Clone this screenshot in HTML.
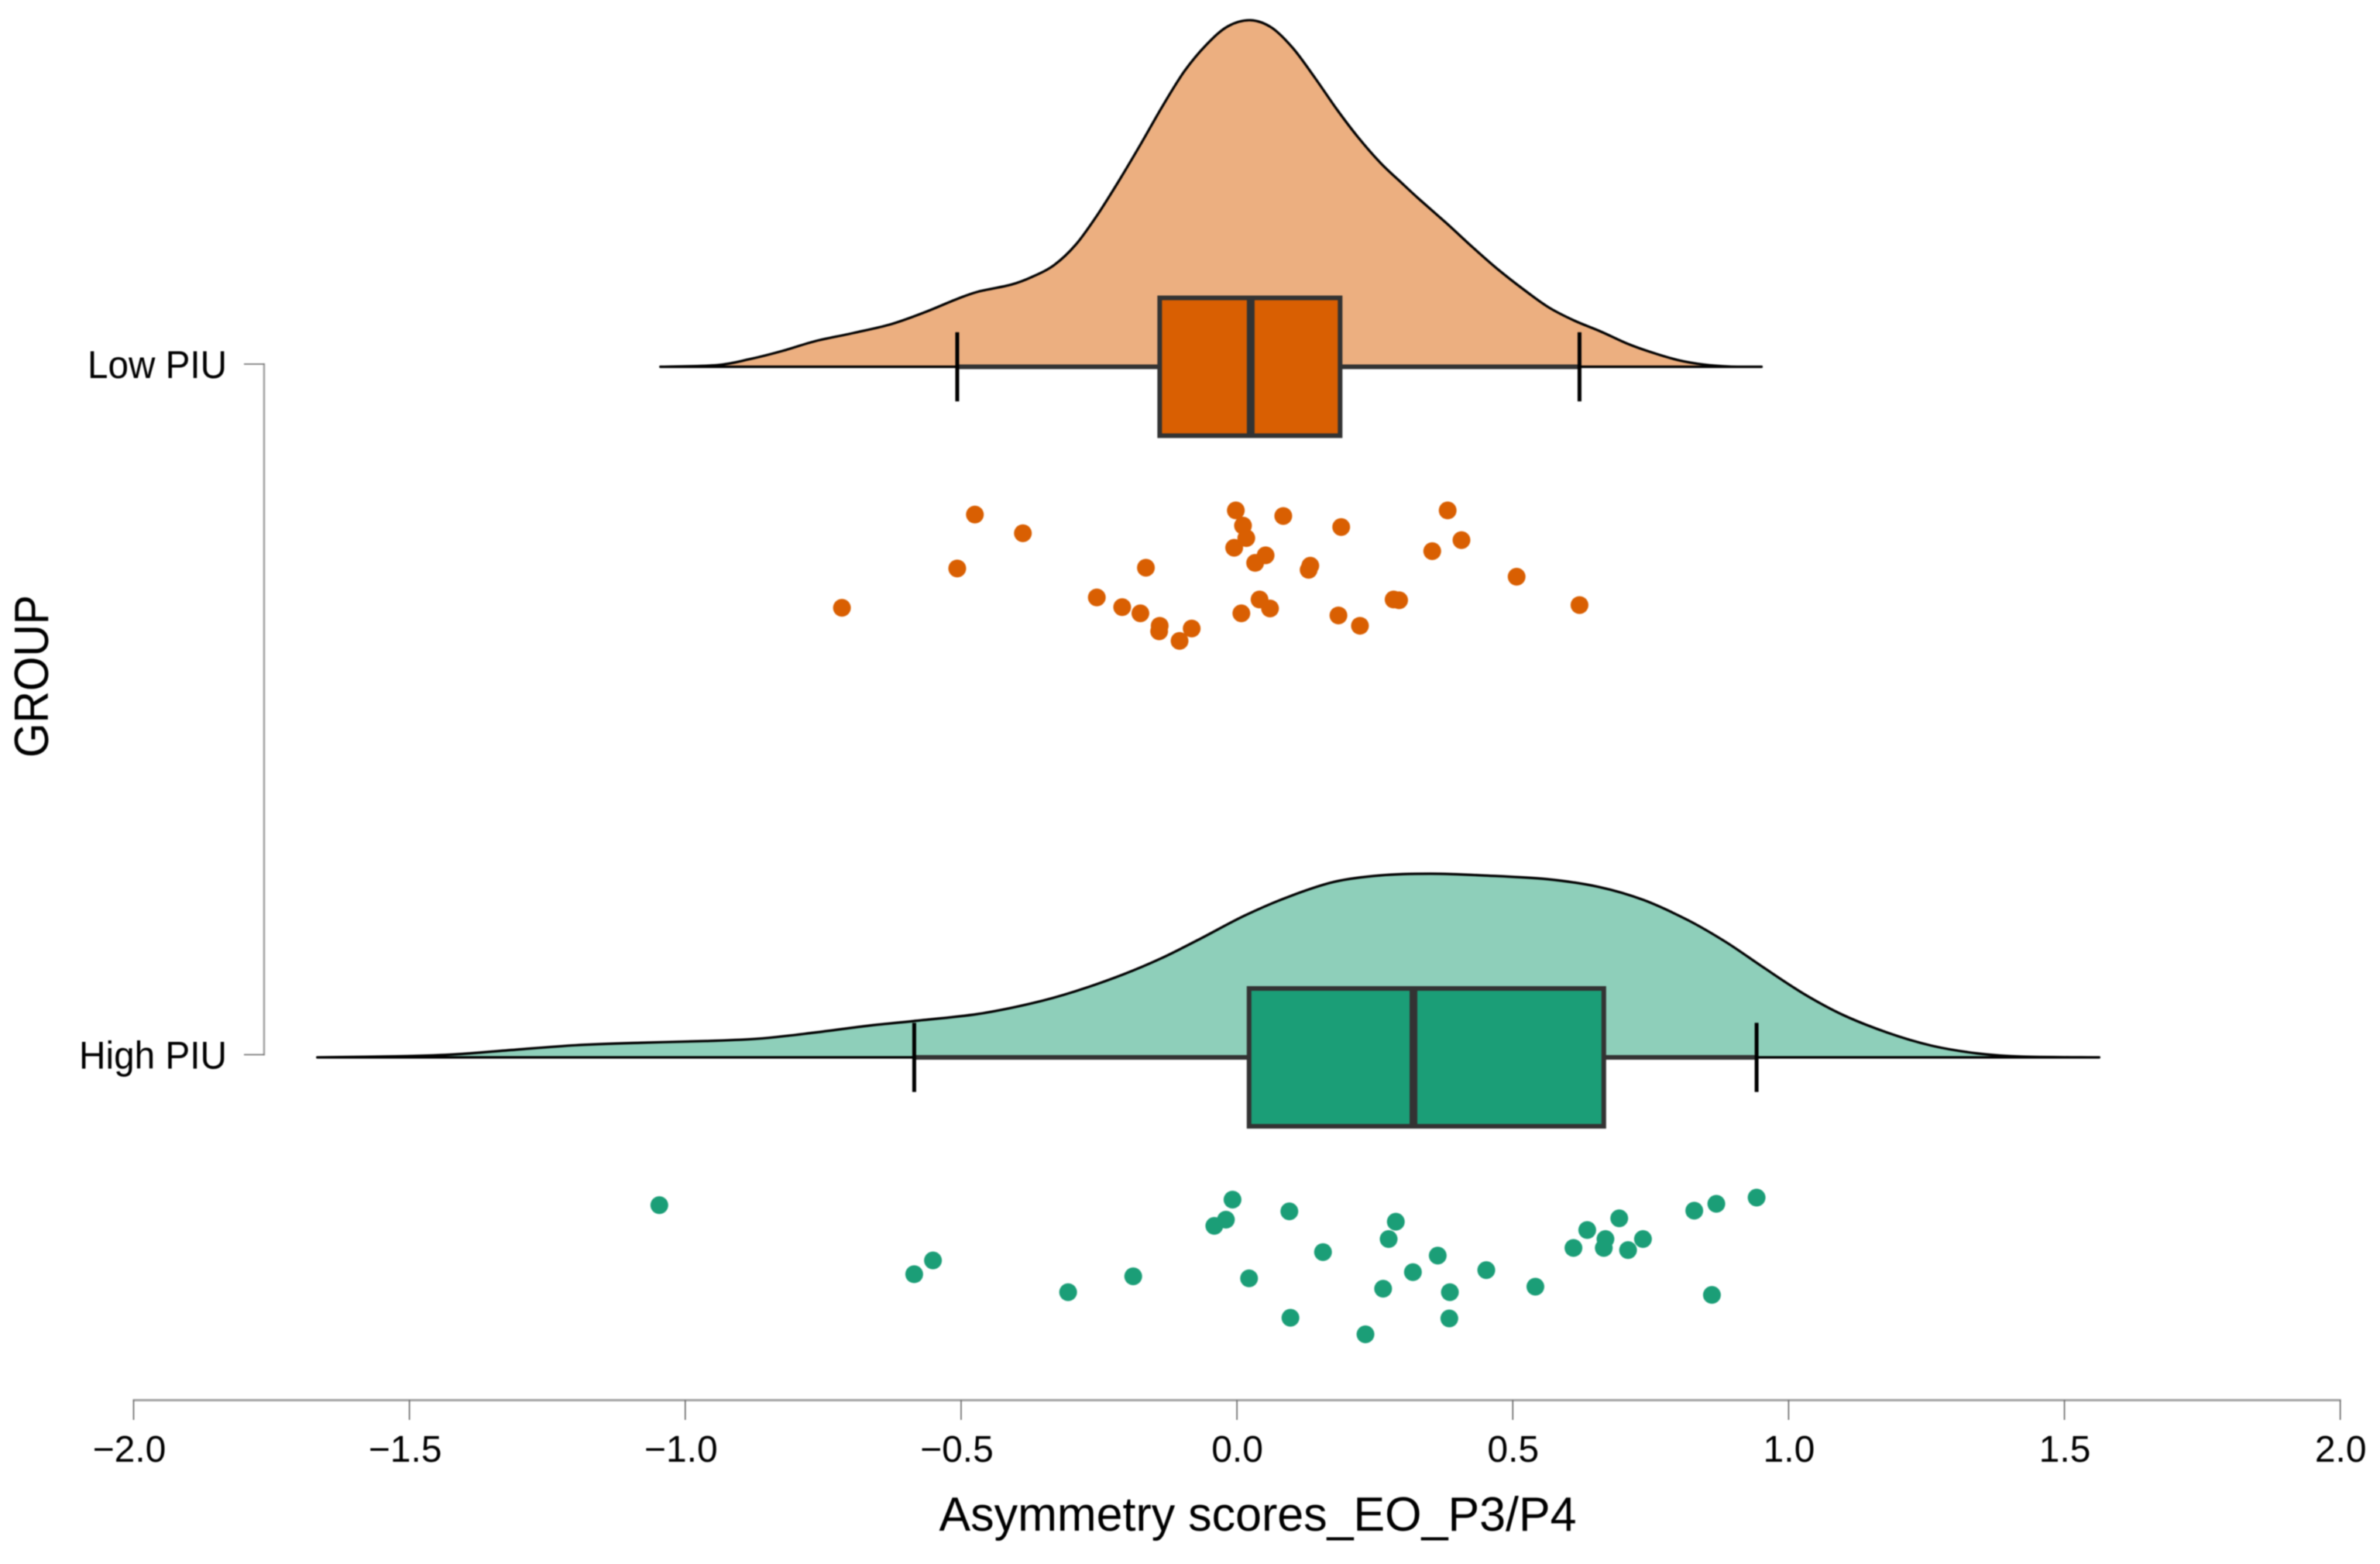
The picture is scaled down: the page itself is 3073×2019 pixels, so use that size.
<!DOCTYPE html>
<html lang="en">
<head>
<meta charset="utf-8">
<title>Raincloud plot of asymmetry scores by group</title>
<style>
html,body{margin:0;padding:0;background:#fff;}
body{width:3073px;height:2019px;overflow:hidden;}
svg{display:block;filter:blur(0.7px);}
text{font-family:"Liberation Sans",Arial,sans-serif;fill:#000;}
</style>
</head>
<body>
<svg id="chart" xmlns="http://www.w3.org/2000/svg" width="3073" height="2019" viewBox="0 0 3073 2019">
  <rect x="0" y="0" width="3073" height="2019" fill="#ffffff"/>
  <g id="y-axis"></g>
  <g id="x-axis"></g>
  <g id="series-low"></g>
  <g id="series-high"></g>
  <text x="1624" y="1976" font-size="62" text-anchor="middle" textLength="823" lengthAdjust="spacingAndGlyphs">Asymmetry scores_EO_P3/P4</text>
  <text transform="translate(62,873) rotate(-90)" font-size="62" text-anchor="middle" textLength="210" lengthAdjust="spacingAndGlyphs">GROUP</text>
</svg>
<script>
// ---- axis data ----
const xTickValues = [-2, -1.5, -1, -0.5, 0, 0.5, 1, 1.5, 2];
const xTickLabels = ['\u22122.0', '\u22121.5', '\u22121.0', '\u22120.5', '0.0', '0.5', '1.0', '1.5', '2.0'];
const groupNames = ['Low PIU', 'High PIU'];

// ---- Low PIU ----
const lowDensityX = [-1.045,-0.942,-0.883,-0.824,-0.765,-0.696,-0.627,-0.567,-0.508,-0.469,-0.410,-0.371,-0.331,-0.292,-0.253,-0.214,-0.174,-0.134,-0.095,-0.055,-0.016,0.025,0.063,0.102,0.142,0.181,0.220,0.260,0.299,0.331,0.379,0.425,0.471,0.519,0.565,0.612,0.660,0.706,0.752,0.800,0.846,0.893,0.951];
const lowDensityY = [0,0.007,0.031,0.064,0.103,0.136,0.172,0.219,0.273,0.303,0.331,0.363,0.411,0.493,0.6125,0.75,0.9,1.055,1.193,1.3,1.374,1.398,1.368,1.284,1.164,1.039,0.925,0.823,0.741,0.675,0.581,0.487,0.397,0.313,0.24,0.186,0.142,0.095,0.058,0.027,0.009,0.001,0];
const lowBox = [-0.140, 0.025, 0.187];
const lowWhiskers = [-0.507, 0.621];
const lowPointsX = [-0.716,-0.475,-0.388,-0.507,-0.165,-0.254,-0.208,-0.175,-0.140,-0.141,-0.082,-0.104,-0.002,0.084,0.011,0.017,-0.005,0.052,0.033,0.189,0.133,0.130,0.041,0.060,0.008,0.184,0.223,0.284,0.294,0.382,0.407,0.354,0.507,0.621];
const lowPointsJitter = [0.349,0.214,0.241,0.292,0.291,0.334,0.348,0.357,0.375,0.383,0.379,0.397,0.208,0.216,0.230,0.248,0.262,0.273,0.284,0.232,0.288,0.294,0.337,0.350,0.357,0.360,0.375,0.337,0.338,0.208,0.251,0.267,0.304,0.345];

// ---- High PIU ----
const highDensityX = [-1.667,-1.505,-1.416,-1.308,-1.199,-1.081,-0.963,-0.865,-0.766,-0.667,-0.585,-0.470,-0.372,-0.294,-0.207,-0.136,-0.066,0.015,0.097,0.178,0.259,0.352,0.446,0.562,0.655,0.737,0.818,0.888,0.957,1.028,1.098,1.179,1.260,1.342,1.423,1.563];
const highDensityY = [0,0.005,0.0125,0.031,0.049,0.059,0.066,0.076,0.1,0.128,0.147,0.175,0.218,0.266,0.334,0.401,0.479,0.573,0.651,0.709,0.734,0.741,0.734,0.719,0.688,0.635,0.553,0.463,0.359,0.256,0.172,0.1,0.047,0.016,0.003,0];
const highBox = [0.022, 0.320, 0.665];
const highWhiskers = [-0.585, 0.942];
const highPointsX = [-1.047,-0.551,-0.585,-0.306,-0.188,-0.008,-0.020,-0.041,0.095,0.022,0.097,0.233,0.288,0.275,0.156,0.364,0.319,0.265,0.386,0.385,0.452,0.541,0.610,0.635,0.668,0.665,0.693,0.709,0.736,0.829,0.869,0.942,0.861];
const highPointsJitter = [0.214,0.294,0.314,0.340,0.317,0.206,0.235,0.244,0.223,0.320,0.377,0.401,0.238,0.263,0.282,0.287,0.311,0.335,0.340,0.378,0.308,0.332,0.276,0.250,0.263,0.276,0.233,0.279,0.263,0.222,0.212,0.203,0.344];

// ---- scales ----
function xScale(v) { return 1597.1 + v * 712.3; }
function groupScale(p) { return 473.5 + p * 891.5; }
function densityScale(d) { return d * 320; }

const SVG_NS = 'http://www.w3.org/2000/svg';
function make(parent, tag, props) {
  const el = document.createElementNS(SVG_NS, tag);
  for (const key in props) el.setAttribute(key, props[key]);
  parent.appendChild(el);
  return el;
}

// Smooth path through curve points (Catmull-Rom to Bezier)
function smoothSegments(pts) {
  let d = '';
  for (let i = 0; i < pts.length - 1; i++) {
    const p0 = pts[Math.max(i - 1, 0)], p1 = pts[i], p2 = pts[i + 1], p3 = pts[Math.min(i + 2, pts.length - 1)];
    const c1x = p1[0] + (p2[0] - p0[0]) / 6, c1y = p1[1] + (p2[1] - p0[1]) / 6;
    const c2x = p2[0] - (p3[0] - p1[0]) / 6, c2y = p2[1] - (p3[1] - p1[1]) / 6;
    d += ' C' + c1x.toFixed(1) + ' ' + c1y.toFixed(1) + ' ' + c2x.toFixed(1) + ' ' + c2y.toFixed(1) + ' ' + p2[0].toFixed(1) + ' ' + p2[1].toFixed(1);
  }
  return d;
}

// ---- x axis ----
const xAxisGroup = document.getElementById('x-axis');
const AXIS_Y = 1807.5;
const xAxisLine = make(xAxisGroup, 'line', {x1: xScale(xTickValues[0]) - 1, x2: xScale(xTickValues[xTickValues.length - 1]) + 1, y1: AXIS_Y, y2: AXIS_Y, stroke: '#a3a3a3', 'stroke-width': 3});


xTickValues.forEach(function (v, i) {
  const tick = make(xAxisGroup, 'line', {x1: xScale(v), x2: xScale(v), y1: AXIS_Y, y2: 1833, stroke: '#666666', 'stroke-width': 1.6});
  
  
  const label = make(xAxisGroup, 'text', {x: xScale(v) - (v < 0 ? 6 : 0) + 0.5, y: 1887, 'font-size': 48, 'text-anchor': 'middle'});
  label.textContent = xTickLabels[i];
  
  
});

// ---- y axis ----
const yAxisGroup = document.getElementById('y-axis');
const Y_AXIS_X = 341;
const TICK_SHIFT = -3.5;
const yAxisLine = make(yAxisGroup, 'line', {x1: Y_AXIS_X, x2: Y_AXIS_X, y1: groupScale(0) + TICK_SHIFT - 1, y2: groupScale(1) + TICK_SHIFT + 1, stroke: '#a3a3a3', 'stroke-width': 2.6});


groupNames.forEach(function (name, i) {
  const y = groupScale(i) + TICK_SHIFT;
  const tick = make(yAxisGroup, 'line', {x1: 315, x2: Y_AXIS_X, y1: y, y2: y, stroke: '#666666', 'stroke-width': 1.6});
  
  
  const label = make(yAxisGroup, 'text', {x: 293, y: y + 18, 'font-size': 50, 'text-anchor': 'end', textLength: name.length === 7 ? 180 : 191, lengthAdjust: 'spacingAndGlyphs'});
  label.textContent = name;
  
  
});

// ---- series ----
function drawSeries(groupId, pos, densX, densY, box, whiskers, ptsX, ptsJit, light, solid) {
  const g = document.getElementById(groupId);
  const base = groupScale(pos);
  const pts = densX.map(function (v, i) { return [xScale(v), base - densityScale(densY[i])]; });
  const curve = 'M' + pts[0][0].toFixed(1) + ' ' + pts[0][1].toFixed(1) + smoothSegments(pts);

  const area = make(g, 'path', {d: curve + ' Z', fill: light, stroke: 'none'});
  
  

  const outline = make(g, 'path', {d: curve + ' Z', fill: 'none', stroke: '#000000', 'stroke-width': 3.2, 'stroke-linejoin': 'round'});
  
  

  const wh = make(g, 'line', {x1: xScale(whiskers[0]), x2: xScale(whiskers[1]), y1: base, y2: base, stroke: '#333333', 'stroke-width': 6});
  
  

  whiskers.forEach(function (v) {
    const cap = make(g, 'line', {x1: xScale(v), x2: xScale(v), y1: groupScale(pos - 0.05), y2: groupScale(pos + 0.05), stroke: '#000000', 'stroke-width': 5});
    
    
  });

  const boxRect = make(g, 'rect', {x: xScale(box[0]), y: groupScale(pos - 0.0998), width: xScale(box[2]) - xScale(box[0]), height: groupScale(pos + 0.0998) - groupScale(pos - 0.0998), fill: solid, stroke: '#333333', 'stroke-width': 6});
  
  

  const median = make(g, 'line', {x1: xScale(box[1]), x2: xScale(box[1]), y1: groupScale(pos - 0.0998), y2: groupScale(pos + 0.0998), stroke: '#333333', 'stroke-width': 10});
  
  

  ptsX.forEach(function (v, i) {
    const dot = make(g, 'circle', {cx: xScale(v), cy: groupScale(pos + ptsJit[i]), r: 11.5, fill: solid});
    
    
  });
}

drawSeries('series-low', 0, lowDensityX, lowDensityY, lowBox, lowWhiskers, lowPointsX, lowPointsJitter, '#ecaf80', '#d95f02');
drawSeries('series-high', 1, highDensityX, highDensityY, highBox, highWhiskers, highPointsX, highPointsJitter, '#8ecfba', '#1b9e77');
</script>
</body>
</html>
